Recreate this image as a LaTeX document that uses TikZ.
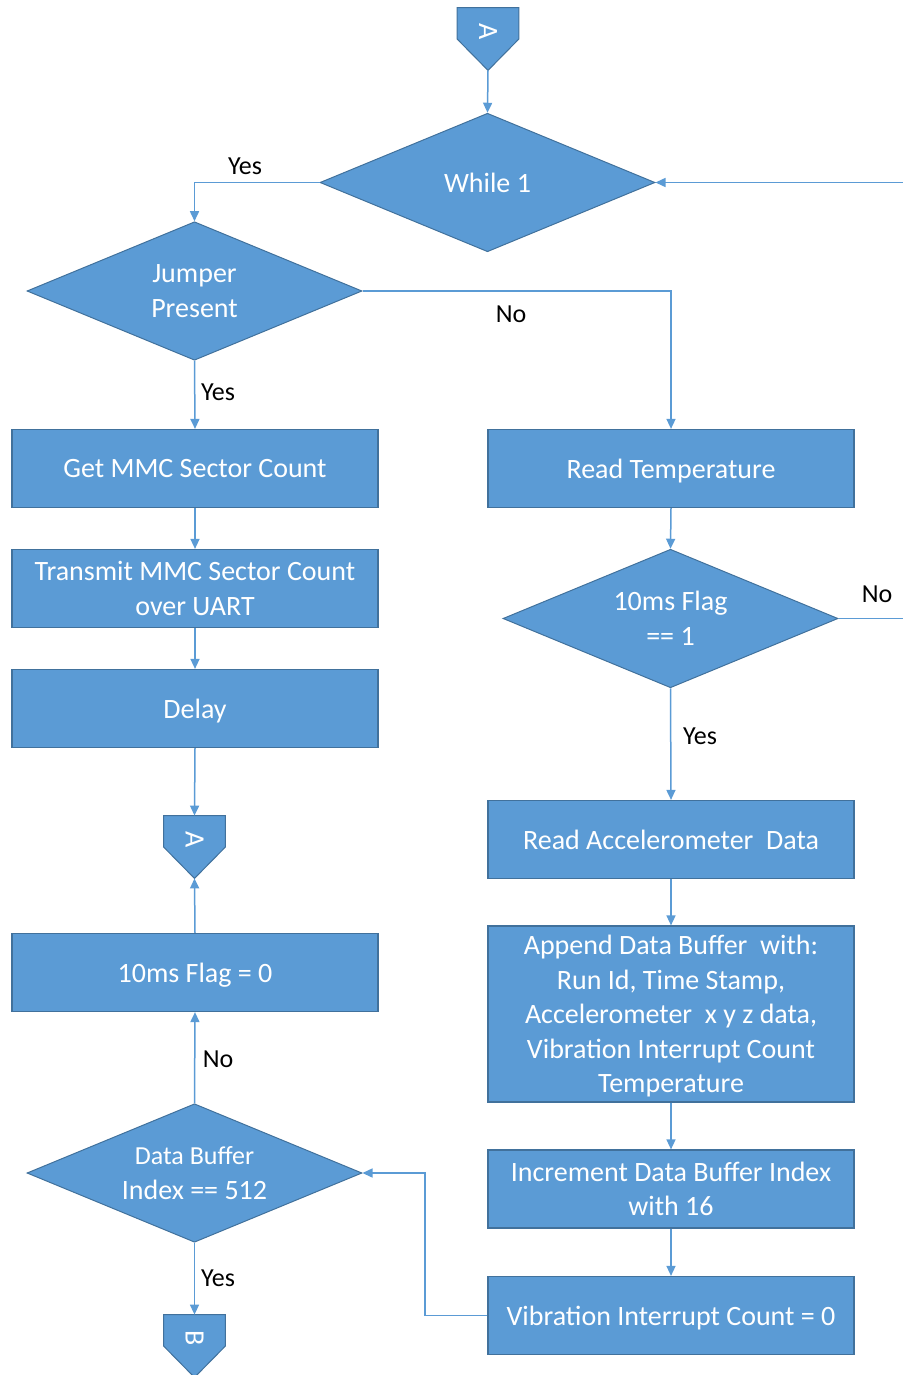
\documentclass[tikz,border=0pt]{standalone}
\usepackage{fontspec}
\setmainfont{Carlito}
\usetikzlibrary{shapes.geometric,arrows.meta}
\definecolor{fillblue}{HTML}{5B9BD5}
\definecolor{edgeblue}{HTML}{41719C}
\begin{document}
\begin{tikzpicture}[x=0.5pt,y=-0.5pt,
 boxtext/.style={text=white, align=center, font=\fontsize{14}{17.25}\selectfont},
 proc/.style={boxtext, draw=edgeblue, line width=0.6pt, fill=fillblue, minimum width=183pt, minimum height=39pt, inner sep=0pt, text depth=0pt},
 dec/.style={boxtext, diamond, aspect=2.43, draw=edgeblue, line width=0.5pt, fill=fillblue, minimum width=167.5pt, minimum height=69.25pt, inner sep=0pt},
 flow/.style={draw=fillblue, line width=0.75pt, -{Triangle[length=5pt,width=4.5pt]}},
 plainline/.style={draw=fillblue, line width=0.75pt},
 lbl/.style={font=\fontsize{13}{15}\selectfont, text=black, inner sep=0pt},
 offpage/.style={minimum width=30.5pt, minimum height=31pt, inner sep=0pt},
 offshape/.style={draw=edgeblue, line width=0.5pt, fill=fillblue},
 offtext/.style={text=white, rotate=-90, font=\fontsize{14}{17}\selectfont, inner sep=0pt},
]
\useasboundingbox (0,0) rectangle (903,1375);

% off-page connectors
\node[offpage] (A1) at (488,39) {};
\node[offpage] (A2) at (194.5,847) {};
\node[offpage] (B1) at (194.5,1346) {};
\foreach \n in {A1,A2,B1}{
  \path[offshape] (\n.north west) -- (\n.north east) -- (\n.east) -- (\n.south) -- (\n.west) -- cycle;
}
\node[offtext] (A1t) at ([yshift=3.75pt]A1.center) {A};
\node[offtext] (A2t) at ([yshift=3.75pt]A2.center) {A};
\node[offtext] (B1t) at ([yshift=3.75pt]B1.center) {B};

% decisions
\node[dec] (While) at (487.5,182.5) {While 1};
\node[dec] (Jumper) at (194.5,291) {Jumper\\Present};
\node[dec] (Flag10) at (670.5,618.5) {10ms Flag\\== 1};
\node[dec] (DataBuf) at (194.5,1173) {{\fontsize{13}{17.25}\selectfont Data Buffer}\\Index == 512};

% processes
\node[proc] (GetMMC) at (195,468.5) {Get MMC Sector Count};
\node[proc] (Transmit) at (195,588.5) {Transmit MMC Sector Count\\over UART};
\node[proc] (Delay) at (195,708.5) {Delay};
\node[proc] (FlagZero) at (195,972.5) {10ms Flag = 0};
\node[proc] (ReadTemp) at (671,468.5) {Read Temperature};
\node[proc] (ReadAcc) at (671,839.5) {Read Accelerometer\ \ Data};
\node[proc, minimum height=88pt] (Append) at (671,1014) {Append Data Buffer\ \ with:\\Run Id, Time Stamp,\\Accelerometer\ \ x y z data,\\Vibration Interrupt Count\\Temperature};
\node[proc] (Incr) at (671,1189) {Increment Data Buffer Index\\with 16};
\node[proc] (Vib) at (671,1315.5) {Vibration Interrupt Count = 0};

% free ends
\coordinate (rightin) at (903,182.5);
\coordinate (rightout) at (903,618.5);
\coordinate (loopx) at (425,1315.5);

% connectors
\draw[flow] (A1.south) -- (While.north);
\draw[flow] (While.west) -| (Jumper.north);
\draw[flow] (Jumper.east) -| (ReadTemp.north);
\draw[flow] (Jumper.south) -- (GetMMC.north);
\draw[flow] (GetMMC.south) -- (Transmit.north);
\draw[flow] (Transmit.south) -- (Delay.north);
\draw[flow] (Delay.south) -- (A2.north);
\draw[flow] (FlagZero.north) -- (A2.south);
\draw[flow] (DataBuf.north) -- (FlagZero.south);
\draw[flow] (DataBuf.south) -- (B1.north);
\draw[flow] (ReadTemp.south) -- (Flag10.north);
\draw[flow] (Flag10.south) -- (ReadAcc.north);
\draw[flow] (ReadAcc.south) -- (Append.north);
\draw[flow] (Append.south) -- (Incr.north);
\draw[flow] (Incr.south) -- (Vib.north);
\draw[flow] (Vib.west) -- (loopx) |- (DataBuf.east);
\draw[flow] (rightin) -- (While.east);
\draw[plainline] (Flag10.east) -- (rightout);

% labels
\node[lbl] (l1) at (245,166) {Yes};
\node[lbl] (l2) at (511,314) {No};
\node[lbl] (l3) at (218,392) {Yes};
\node[lbl] (l4) at (877,594) {No};
\node[lbl] (l5) at (700,736) {Yes};
\node[lbl] (l6) at (218,1059) {No};
\node[lbl] (l7) at (218,1278) {Yes};
\end{tikzpicture}
\end{document}
